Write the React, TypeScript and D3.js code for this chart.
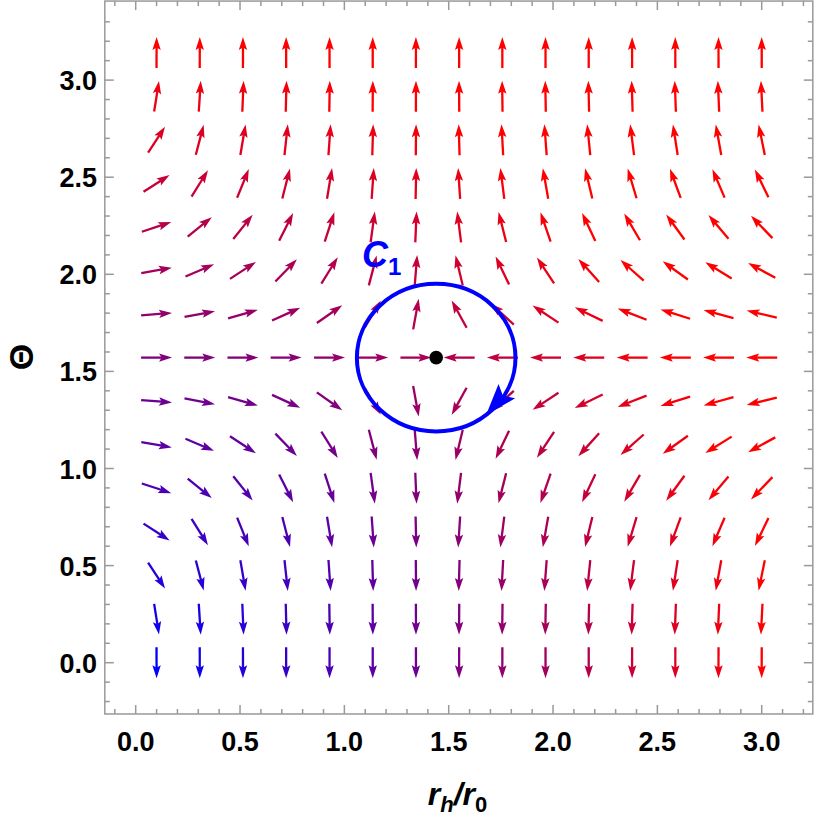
import { useEffect, useRef } from 'react';
import * as d3 from 'd3';

// sampling grid of the vector plot
const rGrid = [0.1, 0.307, 0.514, 0.721, 0.929, 1.136, 1.343, 1.55, 1.757, 1.964, 2.171, 2.379, 2.586, 2.793, 3.0];
const thetaGrid = [0, 0.224, 0.449, 0.673, 0.898, 1.122, 1.346, 1.571, 1.795, 2.02, 2.244, 2.468, 2.693, 2.917, 3.142];

// phi^r per column, phi^theta per row
const phiR = [2.9, 1.17, 0.76, 0.48, 0.31, 0.13, 0.04, -0.12, -0.24, -0.33, -0.45, -0.56, -0.69, -0.8, -0.91];
const phiTheta = [-1000, -19.69, -4.786, -2.011, -1.02, -0.5345, -0.2341, 0, 0.2341, 0.5345, 1.02, 2.011, 4.786, 19.69, 1000];

const xTickLabels = ['0.0', '0.5', '1.0', '1.5', '2.0', '2.5', '3.0'];
const yTickLabels = ['0.0', '0.5', '1.0', '1.5', '2.0', '2.5', '3.0'];

const zeroPoint = [1.44, 1.5708];
const contourRadius = 0.38;

const FONT = '"Liberation Sans", Arial, sans-serif';

export default function App() {
  const svgRef = useRef<SVGSVGElement>(null);

  useEffect(() => {
    if (!svgRef.current) return;
    const svg = d3.select(svgRef.current);
    svg.selectAll('*').remove();

    const x = d3.scaleLinear().domain([0, 3]).range([135.7, 761.7]);
    const y = d3.scaleLinear().domain([0, 3]).range([662.7, 80.1]);
    const xMin = -0.148, xMax = 3.245, yMin = -0.264, yMax = 3.407;

    // blue -> red blend by (scaled) position
    const color = (r: number, t: number) => {
      const a = (r - 0.1) / 2.9, b = t / Math.PI;
      const s = Math.min(1, Math.hypot(a, b));
      return d3.interpolateRgb('#0000ff', '#ff0000')(s);
    };

    // arrows
    const L = 31, headLen = 13, headW = 4.2, notch = 2.5;
    const sx = x(1) - x(0), sy = y(0) - y(1);
    const arrows = svg.append('g');
    thetaGrid.forEach((t, j) => {
      rGrid.forEach((r, i) => {
        const dx = phiR[i] * sx;
        const dy = -phiTheta[j] * sy;
        const n = Math.hypot(dx, dy);
        const ux = dx / n, uy = dy / n;
        const cx = x(r), cy = y(t);
        const tipX = cx + ux * L / 2, tipY = cy + uy * L / 2;
        const tailX = cx - ux * L / 2, tailY = cy - uy * L / 2;
        const px = -uy, py = ux;
        const c = color(r, t);
        arrows.append('line')
          .attr('x1', tailX).attr('y1', tailY)
          .attr('x2', tipX - ux * (headLen - 3)).attr('y2', tipY - uy * (headLen - 3))
          .attr('stroke', c)
          .attr('stroke-width', 2.3);
        const bx = tipX - ux * headLen, by = tipY - uy * headLen;
        arrows.append('path')
          .attr('d', `M${tipX},${tipY}L${bx + px * headW},${by + py * headW}L${bx + ux * notch},${by + uy * notch}L${bx - px * headW},${by - py * headW}Z`)
          .attr('fill', c);
      });
    });

    // frame
    const fx0 = x(xMin), fx1 = x(xMax), fy0 = y(yMax), fy1 = y(yMin);
    const frame = svg.append('g').attr('stroke', '#999').attr('stroke-width', 1.5);
    frame.append('rect')
      .attr('x', fx0).attr('y', fy0)
      .attr('width', fx1 - fx0).attr('height', fy1 - fy0)
      .attr('fill', 'none');

    const xt = d3.range(-1, 33).map(k => k / 10);
    xt.forEach(v => {
      const major = Math.abs(v * 2 - Math.round(v * 2)) < 1e-6;
      const len = major ? 9 : 5;
      frame.append('line').attr('x1', x(v)).attr('x2', x(v)).attr('y1', fy1).attr('y2', fy1 - len);
      frame.append('line').attr('x1', x(v)).attr('x2', x(v)).attr('y1', fy0).attr('y2', fy0 + len);
    });
    const yt = d3.range(-2, 34).map(k => k / 10);
    yt.forEach(v => {
      const major = Math.abs(v * 2 - Math.round(v * 2)) < 1e-6;
      const len = major ? 9 : 5;
      frame.append('line').attr('y1', y(v)).attr('y2', y(v)).attr('x1', fx0).attr('x2', fx0 + len);
      frame.append('line').attr('y1', y(v)).attr('y2', y(v)).attr('x1', fx1).attr('x2', fx1 - len);
    });

    // tick labels
    const labels = svg.append('g')
      .style('font-family', FONT)
      .style('font-weight', 'bold')
      .style('font-size', '27px')
      .attr('fill', '#000');
    xTickLabels.forEach(lbl => {
      labels.append('text')
        .attr('x', x(+lbl)).attr('y', 751)
        .attr('text-anchor', 'middle')
        .text(lbl);
    });
    yTickLabels.forEach(lbl => {
      labels.append('text')
        .attr('x', 97).attr('y', y(+lbl) + 10)
        .attr('text-anchor', 'end')
        .text(lbl);
    });

    // axis titles
    const xt2 = svg.append('text')
      .attr('x', 457.5).attr('y', 805)
      .attr('text-anchor', 'middle')
      .style('font-family', FONT)
      .style('font-weight', 'bold')
      .style('font-size', '32px');
    xt2.append('tspan').style('font-style', 'italic').text('r');
    xt2.append('tspan').style('font-style', 'italic').style('font-size', '22px').attr('dy', 7).text('h');
    xt2.append('tspan').style('font-style', 'italic').attr('dy', -7).text('/');
    xt2.append('tspan').style('font-style', 'italic').text('r');
    xt2.append('tspan').style('font-size', '22px').attr('dy', 7).text('0');

    svg.append('text')
      .attr('transform', 'translate(21,357) rotate(-90)')
      .attr('text-anchor', 'middle')
      .attr('dominant-baseline', 'central')
      .style('font-family', FONT)
      .style('font-weight', 'bold')
      .style('font-size', '34px')
      .text('Θ');

    // contour C1 around the zero point
    const ccx = x(zeroPoint[0]), ccy = y(zeroPoint[1]);
    const rx = x(zeroPoint[0] + contourRadius) - ccx;
    const ry = ccy - y(zeroPoint[1] + contourRadius);
    svg.append('ellipse')
      .attr('cx', ccx).attr('cy', ccy)
      .attr('rx', rx).attr('ry', ry)
      .attr('fill', 'none')
      .attr('stroke', '#0000ff')
      .attr('stroke-width', 4);

    const pt = (deg: number) => {
      const a = deg * Math.PI / 180;
      return [ccx + rx * Math.cos(a), ccy + ry * Math.sin(a)];
    };
    const [tx, ty] = pt(51);
    const [bx0, by0] = pt(27);
    const hl = Math.hypot(tx - bx0, ty - by0);
    const ux = (tx - bx0) / hl, uy = (ty - by0) / hl;
    const hw = 11;
    svg.append('path')
      .attr('d', `M${tx},${ty}L${bx0 - uy * hw},${by0 + ux * hw}L${bx0 + ux * 6},${by0 + uy * 6}L${bx0 + uy * hw},${by0 - ux * hw}Z`)
      .attr('fill', '#0000ff');

    svg.append('circle')
      .attr('cx', ccx).attr('cy', ccy)
      .attr('r', 6.8)
      .attr('fill', '#000');

    const c1 = svg.append('text')
      .attr('x', 362).attr('y', 267)
      .attr('fill', '#0000ff')
      .style('font-family', FONT)
      .style('font-weight', 'bold')
      .style('font-size', '36px');
    c1.append('tspan').style('font-style', 'italic').text('C');
    c1.append('tspan').style('font-size', '24px').attr('dy', 8).text('1');
  }, []);

  return (
    <svg
      ref={svgRef}
      width={817}
      height={817}
      style={{ position: 'absolute', left: 0, top: 0, background: '#fff', display: 'block' }}
    />
  );
}
